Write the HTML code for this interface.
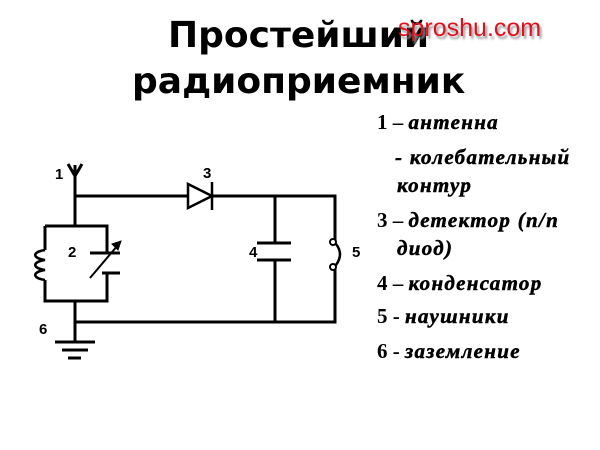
<!DOCTYPE html>
<html><head><meta charset="utf-8"><style>
body{margin:0;width:600px;height:450px;background:#fff;position:relative;overflow:hidden}
.t{position:absolute;font-family:"DejaVu Sans","Liberation Sans",sans-serif;font-weight:bold;font-size:36px;color:#000;white-space:nowrap}
.l{position:absolute;font-family:"Liberation Serif",serif;font-weight:bold;font-size:21px;white-space:nowrap;line-height:22px}
.l i{font-style:italic;letter-spacing:1.3px;-webkit-text-stroke:0.5px #000}
.n{position:absolute;font-family:"Liberation Sans",sans-serif;font-weight:bold;font-size:15px;line-height:18px}
.wm{position:absolute;left:398px;top:14px;font-family:"Liberation Sans",sans-serif;font-size:25px;color:#e0101e;text-shadow:2px 3px 2px #999}
</style></head><body>
<div class="t" style="left:168px;top:15px">Простейший</div>
<div class="t" style="left:132px;top:61px">радиоприемник</div>
<div class="wm">sproshu.com</div>
<div class="l" style="left:377px;top:111px">1 – <i>антенна</i></div>
<div class="l" style="left:395px;top:146px"><i>- колебательный</i></div>
<div class="l" style="left:397px;top:174px"><i>контур</i></div>
<div class="l" style="left:377px;top:209px">3 – <i>детектор (п/п</i></div>
<div class="l" style="left:397px;top:237px"><i>диод)</i></div>
<div class="l" style="left:377px;top:272px">4 – <i>конденсатор</i></div>
<div class="l" style="left:377px;top:305px">5 - <i>наушники</i></div>
<div class="l" style="left:377px;top:340px">6 - <i>заземление</i></div>
<svg width="600" height="450" style="position:absolute;left:0;top:0" fill="none" stroke="#000" stroke-width="3">
<path d="M75 165V226M68 164L75 176L82 164"/>
<path d="M75 196H188M212 196H335V240M335 268V322H75M75 301V342"/>
<path d="M188 184L212 196L188 208Z" stroke-width="2.5"/>
<path d="M212 182V210" stroke-width="2.5"/>
<path d="M45 226H107V253M107 273V301H45V280M45 250V226"/>
<path d="M45 250C32 252 32 258 45 260C32 262 32 268 45 270C32 272 32 278 45 280" stroke-width="2.5"/>
<path d="M90 253H120M102 273H120"/>
<path d="M90 278L118 245" stroke-width="2"/><path d="M112 244L121 241L118 250Z" fill="#000" stroke-width="1"/>
<path d="M275 196V243M275 260V322M257 243H291M257 260H291"/>
<circle cx="333" cy="242" r="3" fill="#fff" stroke-width="2"/>
<circle cx="333" cy="267" r="3" fill="#fff" stroke-width="2"/>
<path d="M336 244Q344 254 336 265" stroke-width="2.5"/>
<path d="M55 342H95M62 350H88M68 358H81"/>
</svg>
<div class="n" style="left:55px;top:166px">1</div>
<div class="n" style="left:203px;top:165px">3</div>
<div class="n" style="left:68px;top:244px">2</div>
<div class="n" style="left:249px;top:244px">4</div>
<div class="n" style="left:352px;top:244px">5</div>
<div class="n" style="left:39px;top:321px">6</div>
</body></html>
